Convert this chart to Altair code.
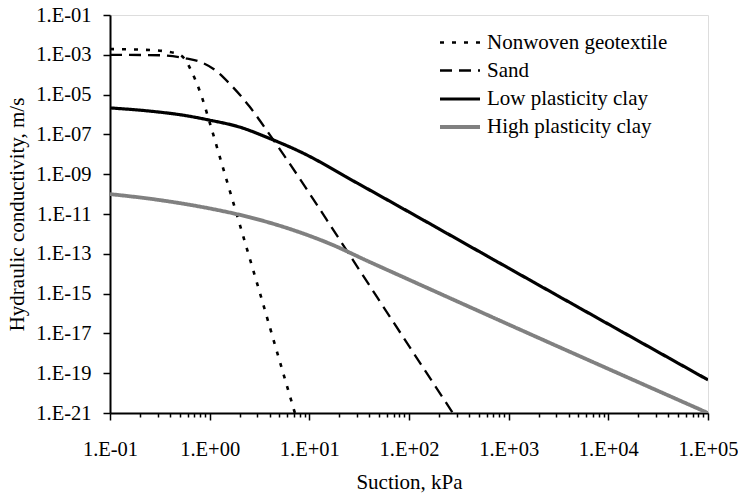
import altair as alt
import pandas as pd

series_names = ["Nonwoven geotextile", "Sand", "Low plasticity clay", "High plasticity clay"]

geo_x = [0.1, 0.251, 0.447, 0.562, 0.661, 0.741, 0.832, 1.0, 1.259, 1.995, 3.162, 5.012, 7.161]
geo_y = [1.95e-3, 1.74e-3, 1.23e-3, 6.2e-4, 1.38e-4, 3.8e-5, 7.9e-6, 4e-7, 7.9e-9, 3.2e-12, 1.26e-15, 4.5e-19, 1e-21]

sand_x = [0.1, 0.316, 0.562, 0.794, 1.122, 1.585, 2.512, 3.981, 6.31, 20.42, 47.86, 275.4]
sand_y = [1e-3, 9.5e-4, 6.8e-4, 4.5e-4, 1.78e-4, 3.55e-5, 2.5e-6, 1e-7, 3.55e-9, 4.6e-13, 6.6e-16, 1e-21]

low_x = [0.1, 0.251, 0.537, 1.0, 1.995, 3.98, 7.94, 31.6, 100, 1000, 1e5]
low_y = [2.14e-6, 1.48e-6, 9.3e-7, 5.2e-7, 2.34e-7, 6.3e-8, 1.41e-8, 3.16e-10, 1.26e-11, 1.9e-14, 4.6e-20]

high_x = [0.1, 0.316, 1.0, 2.512, 6.31, 15.85, 39.8, 100, 1000, 1e5]
high_y = [1e-10, 5e-11, 1.9e-11, 6.9e-12, 1.8e-12, 3.3e-13, 4e-14, 5e-15, 2.8e-17, 1e-21]

x_ticks = [m * 10.0 ** e for e in range(-1, 5) for m in range(1, 10)] + [1e5]
y_ticks = [10.0 ** e for e in range(-21, 0, 2)]

rows = []
for name, xs, ys in zip(series_names,
                        [geo_x, sand_x, low_x, high_x],
                        [geo_y, sand_y, low_y, high_y]):
    for i, (a, b) in enumerate(zip(xs, ys)):
        rows.append({"series": name, "suction": a, "k": b, "order": i})
df = pd.DataFrame(rows)

FONT = "Liberation Serif, Times New Roman, serif"
EXP = "round(log(datum.value)/LN10)"
fmt = ("'1.E' + (" + EXP + " < 0 ? '-' : '+') + (abs(" + EXP + ") < 10 ? '0' : '') + abs(" + EXP + ")")
is_major = "abs(log(datum.value)/LN10 - " + EXP + ") < 0.001"

x_axis = alt.Axis(
    values=x_ticks,
    labelExpr=is_major + " ? " + fmt + " : ''",
    title="Suction, kPa",
    grid=False,
    labelOverlap=False,
    labelFlush=False,
    tickSize={"condition": {"test": is_major, "value": 7}, "value": 4},
    tickColor="black",
    tickWidth=1.5,
    domainColor="black",
    domainWidth=2,
    labelFont=FONT,
    labelFontSize=20.5,
    labelColor="black",
    labelPadding=19,
    titleFont=FONT,
    titleFontSize=21,
    titleFontWeight="normal",
    titleColor="black",
    titlePadding=12,
)

y_axis = alt.Axis(
    values=y_ticks,
    labelExpr=fmt,
    title="Hydraulic conductivity, m/s",
    grid=False,
    labelOverlap=False,
    labelFlush=False,
    tickSize=7,
    tickColor="black",
    tickWidth=1.5,
    domainColor="black",
    domainWidth=2,
    labelFont=FONT,
    labelFontSize=20.5,
    labelColor="black",
    labelPadding=12,
    titleFont=FONT,
    titleFontSize=21,
    titleFontWeight="normal",
    titleColor="black",
    titlePadding=8,
)

legend = alt.Legend(
    title=None,
    orient="none",
    legendX=338,
    legendY=16,
    symbolType="M-2,0H2",
    symbolSize=400,
    labelFont=FONT,
    labelFontSize=21,
    labelColor="black",
    labelOffset=15,
    labelLimit=0,
    rowPadding=6,
    padding=0,
)

chart = alt.Chart(df).mark_line(clip=True, interpolate="monotone").encode(
    x=alt.X("suction:Q", scale=alt.Scale(type="log", domain=[0.1, 1e5], nice=False), axis=x_axis),
    y=alt.Y("k:Q", scale=alt.Scale(type="log", domain=[1e-21, 1e-1], nice=False), axis=y_axis),
    color=alt.Color("series:N", scale=alt.Scale(domain=series_names, range=["black", "black", "black", "#808080"]), legend=legend),
    strokeDash=alt.StrokeDash("series:N", scale=alt.Scale(domain=series_names, range=[[4, 8], [12, 7], [1, 0], [1, 0]]), legend=legend),
    strokeWidth=alt.StrokeWidth("series:N", scale=alt.Scale(type="ordinal", domain=series_names, range=[2.6, 2.3, 3.2, 3.8]), legend=legend),
    order="order:Q",
    detail="series:N",
).properties(
    width=598,
    height=398,
    autosize=alt.AutoSizeParams(type="none"),
    padding={"left": 110, "top": 15, "right": 30, "bottom": 80},
).configure_view(
    stroke="black",
    strokeWidth=1.5,
).configure(background="white")

chart.save("out.html", embed_options={"renderer": "svg", "actions": False})
